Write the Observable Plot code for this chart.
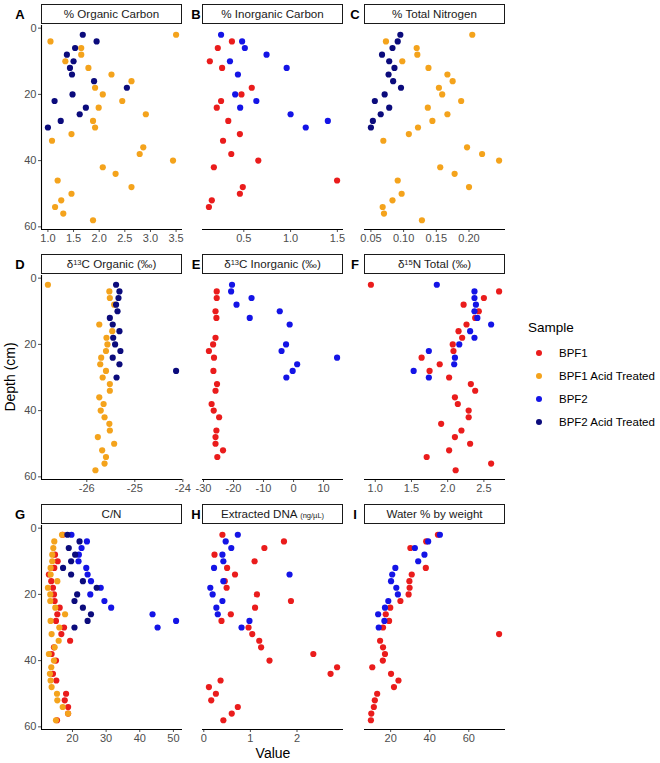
<!DOCTYPE html>
<html>
<head>
<meta charset="utf-8">
<script src="https://cdn.jsdelivr.net/npm/d3@7"></script>
<script src="https://cdn.jsdelivr.net/npm/@observablehq/plot@0.6"></script>
<style>
  body { margin: 0; background: #fff; font-family: "Liberation Sans", Arial, sans-serif; }
  #fig { position: relative; width: 660px; height: 763px; overflow: hidden; }
  .abs { position: absolute; }
  .strip { position: absolute; box-sizing: border-box; border: 1.3px solid #1a1a1a; background: #fff;
           font-size: 11.6px; color: #1a1a1a; text-align: center; line-height: 18px; white-space: nowrap; }
  .strip sup { font-size: 7.5px; vertical-align: 3px; line-height: 0; }
  .strip small { font-size: 7.5px; }
  .tag { position: absolute; font-weight: bold; font-size: 13px; color: #000; transform: translate(-50%, -50%); }
  .leg { position: absolute; font-size: 11.5px; color: #000; white-space: nowrap; transform: translateY(-50%); }
  .dotk { position: absolute; width: 6px; height: 6px; border-radius: 50%; transform: translate(-50%, -50%); }
</style>
</head>
<body>
<div id="fig"></div>
<script>
// ---------- Data (depth every 2 cm, 2..58) ----------
const depths = [2,4,6,8,10,12,14,16,18,20,22,24,26,28,30,32,34,36,38,40,42,44,46,48,50,52,54,56,58];

const samples = ["BPF1", "BPF1 Acid Treated", "BPF2", "BPF2 Acid Treated"];
const sampleColors = ["#ea1c1c", "#f4a31c", "#1414e6", "#0b0b7c"];

// A: % Organic Carbon
const orgC_BPF1acid = [3.5,1.05,1.65,1.65,1.34,1.79,2.24,2.63,1.92,2.07,2.45,1.99,2.91,1.88,1.92,1.46,1.08,2.86,2.79,3.44,2.07,2.32,1.19,2.63,1.46,1.26,1.14,1.30,1.88];
const orgC_BPF2acid = [1.68,1.95,1.53,1.37,1.50,1.43,1.47,1.90,2.54,1.48,1.13,1.74,1.62,1.25,1.00];

// B: % Inorganic Carbon
const inorgC_BPF1 = [null,0.373,0.222,null,0.137,0.268,null,null,0.585,0.475,0.257,0.211,null,0.334,null,0.458,0.278,null,0.366,0.655,0.180,null,1.497,0.489,0.458,0.158,0.127,null,null];
const inorgC_BPF2 = [0.257,0.482,0.511,0.743,0.352,0.958,0.437,null,null,0.408,0.634,0.461,1.0,1.398,1.162];

// C: % Total Nitrogen
const totN_BPF1acid = [0.205,0.073,0.120,0.121,0.098,0.138,0.167,0.175,0.154,0.159,0.188,0.137,0.167,0.144,0.122,0.108,0.069,0.197,0.220,0.246,0.156,0.178,0.091,0.200,0.097,0.083,0.068,0.070,0.128];
const totN_BPF2acid = [0.095,0.091,0.083,0.067,0.078,0.086,0.077,0.084,0.096,0.071,0.056,0.078,0.065,0.053,0.050];

// D: d13C Organic
const d13Corg_BPF1acid = [-26.81,-25.53,-25.52,-25.43,null,null,-25.74,-25.47,-25.59,-25.57,-25.60,-25.70,-25.72,-25.60,-25.67,-25.52,-25.52,-25.74,-25.65,-25.71,-25.63,-25.53,-25.52,-25.77,-25.43,-25.68,-25.60,-25.63,-25.82];
const d13Corg_BPF2acid = [-25.39,-25.32,-25.34,-25.39,-25.36,-25.52,-25.46,-25.32,-25.45,-25.41,-25.30,-25.46,-25.32,-24.14,-25.38];

// E: d13C Inorganic
const d13Cinorg_BPF1 = [null,-25.6,-25.6,null,-26.0,-25.7,null,null,-26.0,-26.8,-28.2,-26.5,null,-26.7,null,-25.5,-26.0,null,-27.3,-26.6,-24.8,null,-25.7,-26.0,-26.0,-23.5,-25.4,null,null];
const d13Cinorg_BPF2 = [-20.5,-20.8,-14.0,-19.0,-4.6,-14.6,-1.3,null,null,-2.5,-4.0,14.5,1.2,-0.3,-2.4];

// F: d15N Total
const d15N_BPF1 = [0.94,2.71,2.50,2.22,2.43,2.38,2.26,2.15,2.20,2.07,2.08,1.64,1.89,1.75,2.02,2.32,2.38,2.10,2.14,2.29,2.29,1.91,2.19,2.10,2.31,2.02,1.71,2.60,2.11];
const d15N_BPF2 = [1.85,2.37,2.37,2.39,2.37,2.41,2.60,2.31,2.37,2.16,1.74,2.10,2.09,1.53,1.74];

// G: C/N
const cn_BPF1 = [17.1,null,null,14.8,15.6,14.6,13.0,13.7,14.2,14.5,14.7,16.2,15.5,15.1,17.5,16.7,19.3,14.5,13.8,15.1,null,14.2,15.2,null,18.1,17.7,18.7,18.7,15.4];
const cn_BPF1acid = [16.9,14.6,14.3,14.0,14.0,13.5,13.5,15.5,12.7,13.4,13.4,14.9,17.8,13.5,16.1,13.8,15.9,14.7,13.0,14.5,13.7,13.3,13.5,13.8,15.4,15.5,17.1,18.7,15.1];
const cn_BPF2 = [19.7,24.3,22.7,21.9,21.8,24.1,24.5,25.5,28.4,25.3,29.5,31.5,43.8,50.8,45.3];
const cn_BPF2acid = [18.5,22.1,18.9,20.8,19.6,17.2,19.6,23.1,27.2,21.4,20.6,23.1,25.5,24.5,20.6];

// H: Extracted DNA
const dna_BPF1 = [0.40,1.72,1.30,0.23,1.09,0.50,0.67,0.45,0.49,1.14,1.87,1.10,0.58,0.38,0.96,1.04,1.19,1.23,2.35,1.41,2.86,2.72,0.36,0.11,0.26,0.16,0.73,0.60,0.42];
const dna_BPF2 = [0.73,0.47,0.59,0.40,0.42,0.22,1.84,0.42,0.14,0.19,0.40,0.27,0.30,0.98,0.81];

// I: Water % by weight
const water_BPF1 = [44.2,38.2,30.1,null,null,38.0,30.8,29.6,29.7,29.2,25.0,19.8,17.5,19.2,16.1,75.5,14.6,16.1,17.1,16.0,10.6,20.2,24.0,21.7,13.1,11.9,11.4,10.1,9.9];
const water_BPF2 = [45.2,39.2,32.4,37.3,34.1,22.4,20.8,20.2,22.9,23.7,18.8,17.1,13.6,16.8,13.9];

// Tick values per panel
const ticksA = [1.0,1.5,2.0,2.5,3.0,3.5];
const ticksB = [0.5,1.0,1.5];
const ticksC = [0.05,0.10,0.15,0.20];
const ticksD = [-26,-25,-24];
const ticksE = [-30,-20,-10,0,10];
const ticksF = [1.0,1.5,2.0,2.5];
const ticksG = [20,30,40,50];
const ticksH = [0,1,2];
const ticksI = [20,40,60];
const depthTicks = [0,20,40,60];

const f1 = d3.format(".1f"), f2 = d3.format(".2f"), plain = d => String(d);

const panels = [
  { tag: "A", title: "% Organic Carbon", ticks: ticksA, fmt: f1,
    series: [["BPF1 Acid Treated", orgC_BPF1acid], ["BPF2 Acid Treated", orgC_BPF2acid]] },
  { tag: "B", title: "% Inorganic Carbon", ticks: ticksB, fmt: f1,
    series: [["BPF1", inorgC_BPF1], ["BPF2", inorgC_BPF2]] },
  { tag: "C", title: "% Total Nitrogen", ticks: ticksC, fmt: f2,
    series: [["BPF1 Acid Treated", totN_BPF1acid], ["BPF2 Acid Treated", totN_BPF2acid]] },
  { tag: "D", title: "δ<sup>13</sup>C Organic (‰)", ticks: ticksD, fmt: plain,
    series: [["BPF1 Acid Treated", d13Corg_BPF1acid], ["BPF2 Acid Treated", d13Corg_BPF2acid]] },
  { tag: "E", title: "δ<sup>13</sup>C Inorganic (‰)", ticks: ticksE, fmt: plain,
    series: [["BPF1", d13Cinorg_BPF1], ["BPF2", d13Cinorg_BPF2]] },
  { tag: "F", title: "δ<sup>15</sup>N Total (‰)", ticks: ticksF, fmt: f1,
    series: [["BPF1", d15N_BPF1], ["BPF2", d15N_BPF2]] },
  { tag: "G", title: "C/N", ticks: ticksG, fmt: plain,
    series: [["BPF1", cn_BPF1], ["BPF1 Acid Treated", cn_BPF1acid], ["BPF2", cn_BPF2], ["BPF2 Acid Treated", cn_BPF2acid]] },
  { tag: "H", title: "Extracted DNA <small>(ng/µL)</small>", ticks: ticksH, fmt: plain,
    series: [["BPF1", dna_BPF1], ["BPF2", dna_BPF2]] },
  { tag: "I", title: "Water % by weight", ticks: ticksI, fmt: plain,
    series: [["BPF1", water_BPF1], ["BPF2", water_BPF2]] }
];

// ---------- Layout ----------
const colLeft = [41, 202, 364];
const rowTop = [25, 275, 525];
const tagX = [20, 196, 355];
const PW = 141, PH = 204;
const fig = document.getElementById("fig");

// ggplot-like 5% expansion of the data range
const expand = ([a, b]) => { const p = (b - a) * 0.05; return [a - p, b + p]; };
const yDom = expand(d3.extent(depths));

function addDiv(cls, left, top, html, extra = "") {
  const el = document.createElement("div");
  el.className = cls;
  el.style.cssText += `left:${left}px;top:${top}px;${extra}`;
  el.innerHTML = html;
  fig.appendChild(el);
  return el;
}

panels.forEach((p, i) => {
  const col = i % 3, row = Math.floor(i / 3);
  const rows = [];
  // keep sample order so red, orange, blue, navy draw in that order
  const ordered = [...p.series].sort((a, b) => samples.indexOf(a[0]) - samples.indexOf(b[0]));
  for (const [sample, vals] of ordered) {
    vals.forEach((v, k) => { if (v != null) rows.push({ depth: depths[k], value: v, sample }); });
  }
  const xDom = expand(d3.extent(rows, d => d.value));
  const ml = col === 0 ? 41 : 6, mr = 6, mt = 4, mb = 26;

  const svg = Plot.plot({
    width: ml + PW + mr, height: mt + PH + mb,
    marginLeft: ml, marginRight: mr, marginTop: mt, marginBottom: mb,
    style: { background: "transparent", fontFamily: "Liberation Sans, Arial, sans-serif", overflow: "visible" },
    x: { domain: xDom },
    y: { domain: yDom, reverse: true, axis: col === 0 ? undefined : null },
    color: { domain: samples, range: sampleColors },
    marks: [
      Plot.axisX({ ticks: p.ticks, tickFormat: p.fmt, tickSize: 3, tickPadding: 2,
                   fontSize: 11, color: "#4d4d4d", label: null }),
      col === 0 ? Plot.axisY({ ticks: depthTicks, tickSize: 3, tickPadding: 2,
                               fontSize: 11, color: "#4d4d4d", label: null }) : null,
      Plot.ruleY([yDom[1]], { stroke: "#000", strokeWidth: 1.1 }),
      col === 0 ? Plot.ruleX([xDom[0]], { stroke: "#000", strokeWidth: 1.1 }) : null,
      Plot.dot(rows, { x: "value", y: "depth", fill: "sample", r: 3.1 })
    ]
  });
  svg.style.position = "absolute";
  svg.style.left = (colLeft[col] - ml) + "px";
  svg.style.top = (rowTop[row] - mt) + "px";
  svg.style.maxWidth = "none";
  fig.appendChild(svg);

  addDiv("strip", colLeft[col], rowTop[row] - 21, p.title, `width:${PW}px;height:20px;`);
  addDiv("tag", tagX[col], rowTop[row] - 11, p.tag);
});

// ---------- Axis titles ----------
addDiv("abs", 10, 377, "Depth (cm)",
  "font-size:14px;color:#000;white-space:nowrap;transform:translate(-50%,-50%) rotate(-90deg);");
addDiv("abs", 273, 753, "Value",
  "font-size:14px;color:#000;white-space:nowrap;transform:translate(-50%,-50%);");

// ---------- Legend ----------
addDiv("leg", 528, 327, "Sample", "font-size:13.5px;");
const legY = [353, 376, 399, 422];
samples.forEach((s, i) => {
  addDiv("dotk", 539, legY[i], "", `background:${sampleColors[i]};`);
  addDiv("leg", 559, legY[i], s);
});
</script>
</body>
</html>
